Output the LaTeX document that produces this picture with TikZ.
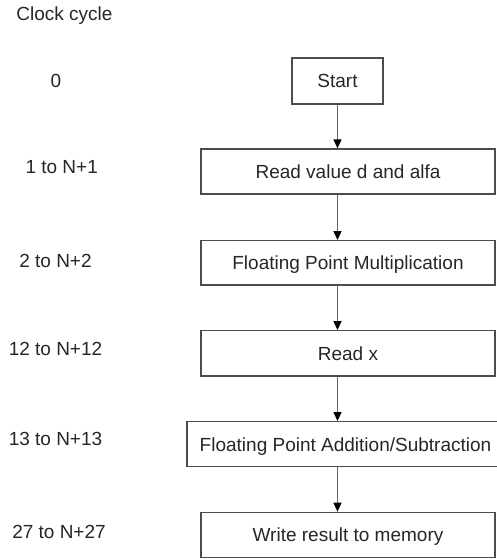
\documentclass[tikz,border=0pt]{standalone}
\usepackage{fontspec}
\setmainfont{Liberation Sans}
\usetikzlibrary{arrows.meta}
\begin{document}
\begin{tikzpicture}[x=1pt,y=-1pt,
  every node/.style={font=\fontsize{19}{23}\selectfont, text=black!85},
  stepbox/.style={draw=black!70, line width=1.3pt, rectangle, inner sep=0pt,
    text height=13.6pt, text depth=0pt},
  cyclelabel/.style={anchor=base},
  flow/.style={draw=black!60, line width=1.3pt,
    -{Triangle[length=9pt,width=8pt,color=black]}}
]
\useasboundingbox (0,0) rectangle (496,560);

% processing steps
\node[stepbox, minimum width=91pt, minimum height=46pt]   (start) at (337.5,81)    {Start};
\node[stepbox, minimum width=294pt, minimum height=45pt]  (rv)    at (348,171.5)   {Read value d and alfa};
\node[stepbox, minimum width=294pt, minimum height=44.3pt] (fm)   at (348,262.85)  {Floating Point Multiplication};
\node[stepbox, minimum width=294pt, minimum height=45.3pt] (rx)   at (348,353.35)  {Read x};
\node[stepbox, minimum width=317pt, minimum height=45pt]  (fa)    at (345.5,444.2) {Floating Point Addition/Subtraction};
\node[stepbox, minimum width=294pt, minimum height=45.4pt] (wr)   at (348,535)     {Write result to memory};

% clock cycle column
\node[cyclelabel] (cc)  at (64.5,20) {Clock cycle};
\node[cyclelabel] (c0)  at (56,87)   {0};
\node[cyclelabel] (c1)  at (61.7,173) {1 to N+1};
\node[cyclelabel] (c2)  at (55.5,267) {2 to N+2};
\node[cyclelabel] (c12) at (55.5,355) {12 to N+12};
\node[cyclelabel] (c13) at (55.5,445) {13 to N+13};
\node[cyclelabel] (c27) at (59,538)  {27 to N+27};

% flow arrows
\draw[flow] (start.south) -- (start.south |- rv.north);
\draw[flow] (rv.south -| start.south) -- (fm.north -| start.south);
\draw[flow] (fm.south -| start.south) -- (rx.north -| start.south);
\draw[flow] (rx.south -| start.south) -- (fa.north -| start.south);
\draw[flow] (fa.south -| start.south) -- (wr.north -| start.south);
\end{tikzpicture}
\end{document}
